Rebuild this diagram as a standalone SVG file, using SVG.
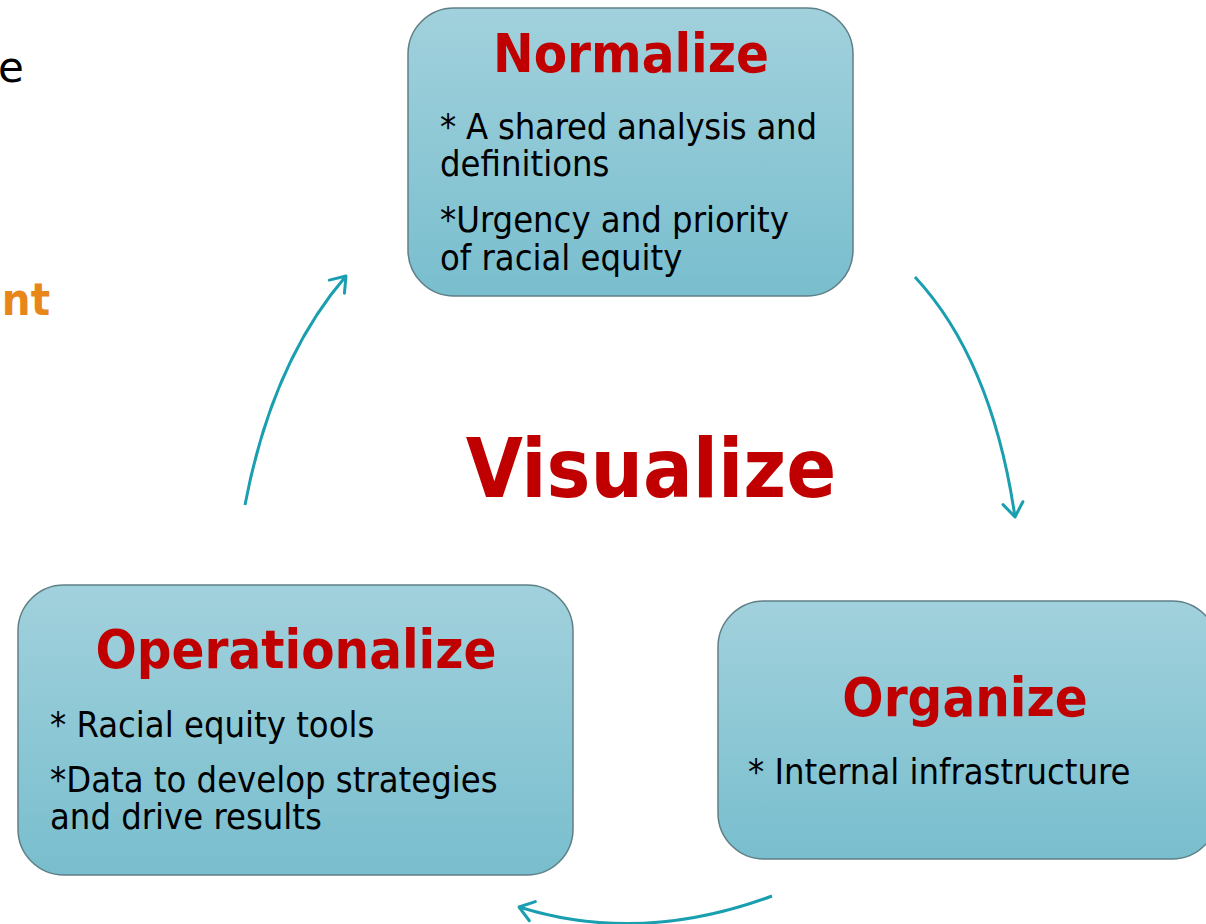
<svg xmlns="http://www.w3.org/2000/svg" width="1206" height="924" viewBox="0 0 1206 924">
<style>
.box{fill:url(#g);stroke:#5f7f86;stroke-width:1.5}
.title{font-family:"DejaVu Sans",sans-serif;font-weight:bold;fill:#c00000;text-anchor:middle;font-stretch:condensed}
.body{font-family:"DejaVu Sans",sans-serif;font-size:36px;fill:#000;font-stretch:condensed}
.arr{fill:none;stroke:#1a9fb0;stroke-width:3;marker-end:url(#ah)}
</style>
<defs>
<linearGradient id="g" x1="0" y1="0" x2="0" y2="1">
<stop offset="0" stop-color="#a1d1dc"/>
<stop offset="1" stop-color="#79bece"/>
</linearGradient>
<marker id="ah" markerUnits="userSpaceOnUse" markerWidth="30" markerHeight="30" refX="16" refY="12" orient="auto" viewBox="0 0 30 30">
<path d="M2,2 L16,12 L2,22" fill="none" stroke="#1a9fb0" stroke-width="3" stroke-linecap="round" stroke-linejoin="round"/>
</marker>
</defs>
<rect width="1206" height="924" fill="#fff"/>
<text x="-2" y="82" style="font-family:'DejaVu Sans',sans-serif;font-size:42px;fill:#000">e</text>
<text x="50" y="315" text-anchor="end" style="font-family:'DejaVu Sans',sans-serif;font-size:45px;font-weight:bold;fill:#e8861a;font-stretch:condensed">nt</text>
<g id="connectors">
<path class="arr" d="M245,505 Q272,362 346,276"/>
<path class="arr" d="M915,277 Q992,360 1015,517"/>
<path class="arr" d="M772,896 Q640,945 519,907"/>
</g>
<g id="normalize">
<rect class="box" x="408" y="8" width="445" height="288" rx="46"/>
<text class="title" x="631" y="72" font-size="54">Normalize</text>
<text class="body" x="440" y="139" textLength="377" lengthAdjust="spacing">* A shared analysis and</text>
<text class="body" x="440" y="176">definitions</text>
<text class="body" x="440" y="232">*Urgency and priority</text>
<text class="body" x="440" y="270">of racial equity</text>
</g>
<g id="organize">
<rect class="box" x="718" y="601" width="500" height="258" rx="46"/>
<text class="title" x="965" y="716" font-size="54">Organize</text>
<text class="body" x="748" y="784">* Internal infrastructure</text>
</g>
<g id="operationalize">
<rect class="box" x="18" y="585" width="555" height="290" rx="46"/>
<text class="title" x="296" y="668" font-size="54">Operationalize</text>
<text class="body" x="50" y="737">* Racial equity tools</text>
<text class="body" x="50" y="792">*Data to develop strategies</text>
<text class="body" x="50" y="829">and drive results</text>
</g>
<g id="visualize">
<text class="title" x="651" y="497" font-size="82">Visualize</text>
</g>
</svg>
